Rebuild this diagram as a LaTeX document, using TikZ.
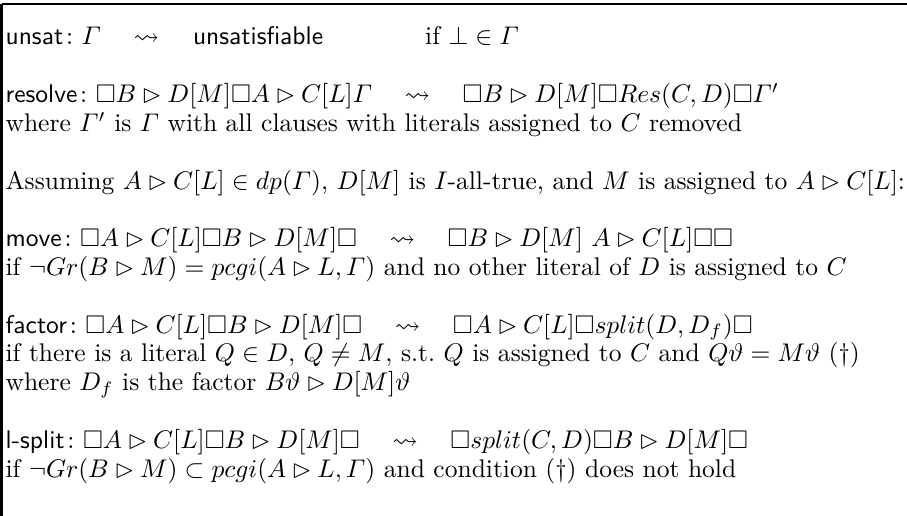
\documentclass[tikz,border=0pt]{standalone}
\usepackage{amsmath}
\usepackage{amssymb}

\begin{document}
\begin{tikzpicture}[x=1pt,y=1pt]
	\tikzset{ruleline/.style={anchor=base west,inner sep=0pt}}
	\useasboundingbox (0,0) rectangle (355.5,-202.2);

	% frame (top and left only)
	\draw[line width=1pt] (0.6,-1.6) -- (355.5,-1.6);
	\draw[line width=1pt] (0.6,-1.6) -- (0.6,-202.2);

	% rules
	\node[ruleline] (unsat) at (2,-17.64) {\textsf{unsat}$\colon \varGamma \quad\leadsto\quad$ \textsf{unsatisfiable}\qquad\qquad if $\bot \in \varGamma$};
	\node[ruleline] (resolve) at (2,-40.22) {\textsf{resolve}$\colon \Box B \rhd D[M] \Box A \rhd C[L] \varGamma \quad\leadsto\quad \Box B \rhd D[M] \Box Res(C,D) \Box \varGamma'$};
	\node[ruleline] (resolvewhere) at (2,-51.51) {where $\varGamma'$ is $\varGamma$ with all clauses with literals assigned to $C$ removed};
	\node[ruleline] (assume) at (2,-74.09) {Assuming $A \rhd C[L] \in dp(\varGamma)$, $D[M]$ is $I$-all-true, and $M$ is assigned to $A \rhd C[L]$:};
	\node[ruleline] (move) at (2,-96.67) {\textsf{move}$\colon \Box A \rhd C[L] \Box B \rhd D[M] \Box \quad\leadsto\quad \Box B \rhd D[M]\ A \rhd C[L] \Box\Box$};
	\node[ruleline] (moveif) at (2,-107.96) {if $\neg Gr(B \rhd M) = pcgi(A \rhd L, \varGamma)$ and no other literal of $D$ is assigned to $C$};
	\node[ruleline] (factor) at (2,-130.54) {\textsf{factor}$\colon \Box A \rhd C[L] \Box B \rhd D[M] \Box \quad\leadsto\quad \Box A \rhd C[L] \Box split(D,D_f) \Box$};
	\node[ruleline] (factorif) at (2,-141.83) {if there is a literal $Q \in D$, $Q \neq M$, s.t.\ $Q$ is assigned to $C$ and $Q\vartheta = M\vartheta$ (\dag)};
	\node[ruleline] (factorwhere) at (2,-153.12) {where $D_f$ is the factor $B\vartheta \rhd D[M]\vartheta$};
	\node[ruleline] (lsplit) at (2,-175.70) {\textsf{l-split}$\colon \Box A \rhd C[L] \Box B \rhd D[M] \Box \quad\leadsto\quad \Box split(C,D) \Box B \rhd D[M] \Box$};
	\node[ruleline] (lsplitif) at (2,-186.99) {if $\neg Gr(B \rhd M) \subset pcgi(A \rhd L, \varGamma)$ and condition (\dag) does not hold};

\end{tikzpicture}
\end{document}
